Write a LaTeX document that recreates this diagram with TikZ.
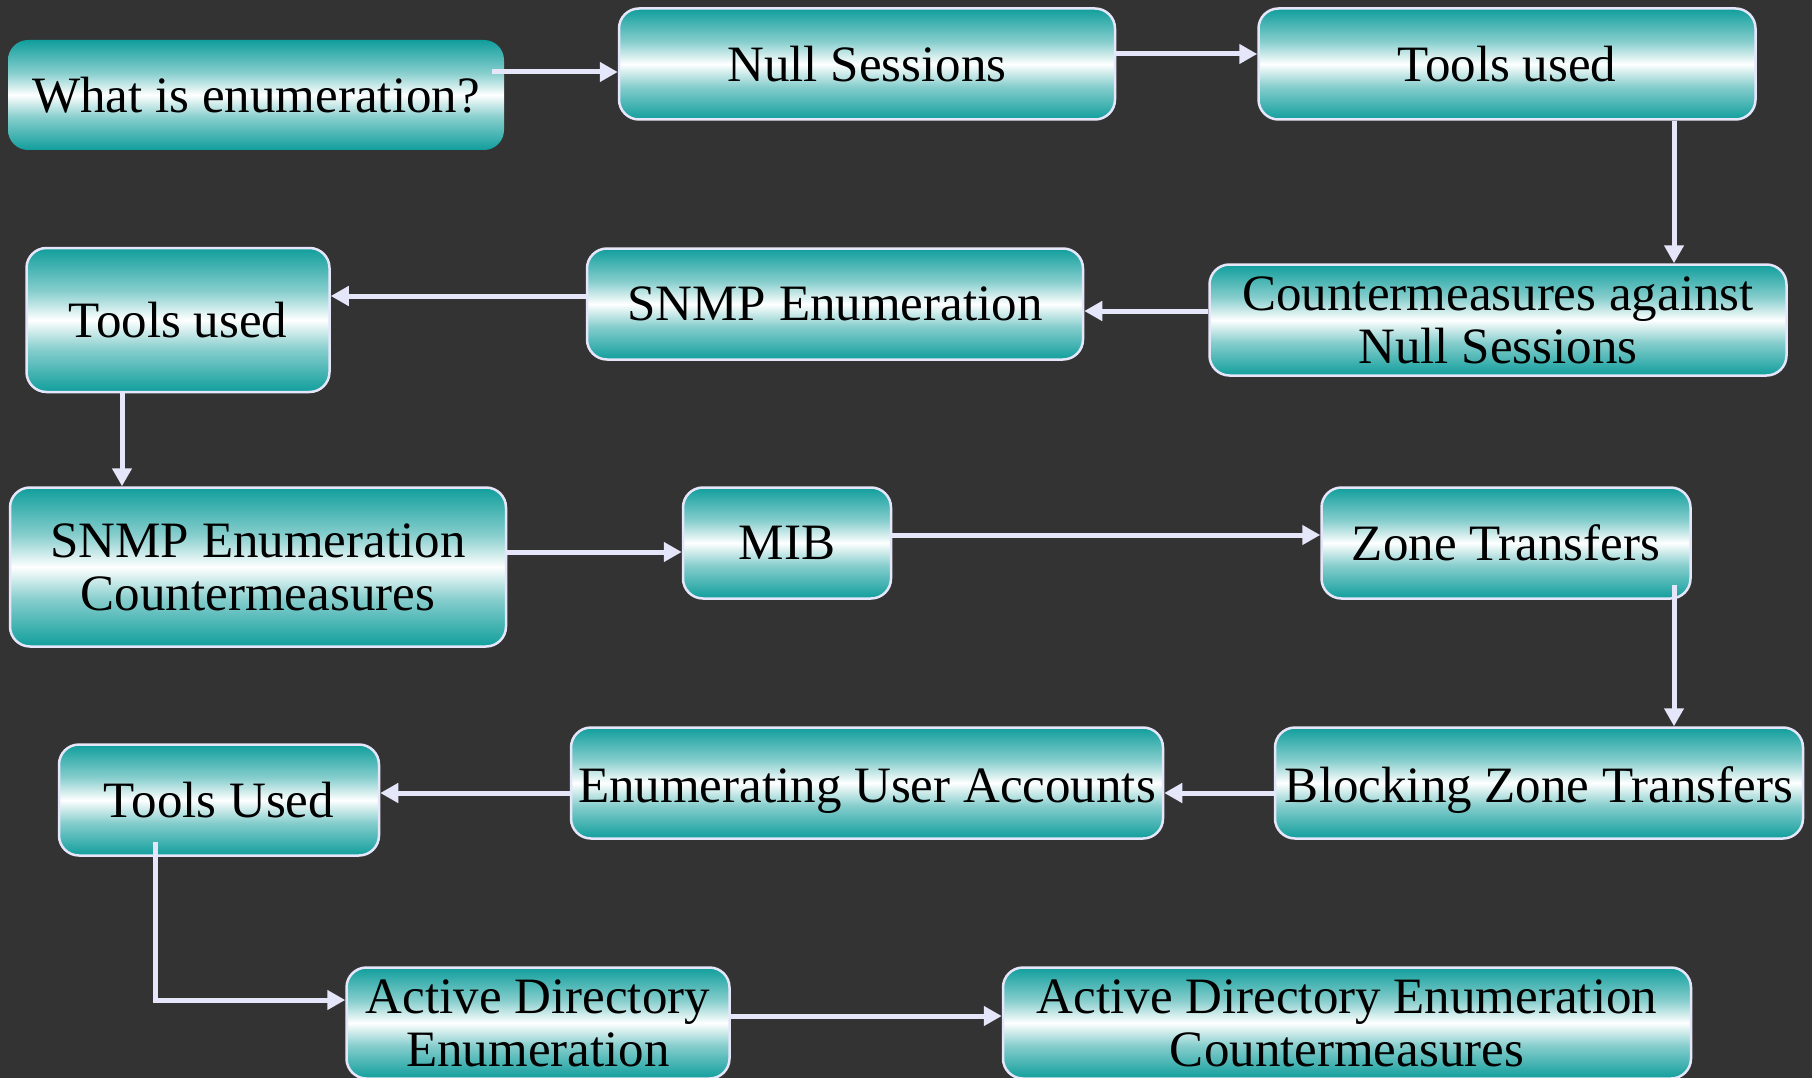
\documentclass[tikz,border=0pt]{standalone}
\usepackage{fontspec}
\setmainfont{Liberation Serif}
\usetikzlibrary{arrows.meta}
\definecolor{bgc}{RGB}{51,51,51}
\definecolor{tealc}{RGB}{16,158,156}
\definecolor{lav}{RGB}{230,230,250}
\pgfdeclareverticalshading{tealband}{100bp}{%
  color(0bp)=(tealc); color(25bp)=(tealc); color(32.5bp)=(tealc!75!white);
  color(40bp)=(tealc!50!white); color(46bp)=(tealc!20!white); color(50bp)=(white);
  color(54bp)=(tealc!20!white); color(60bp)=(tealc!50!white);
  color(67.5bp)=(tealc!75!white); color(75bp)=(tealc); color(100bp)=(tealc)}
\tikzset{
  box/.style={rounded corners=20pt, draw=lav, line width=2.5pt,
    shading=tealband,
    inner sep=0pt, align=center, text=black,
    font=\fontsize{51}{53}\selectfont},
  arr/.style={draw=lav, line width=5pt,
    -{Triangle[width=19pt,length=18pt]}},
  lowtext/.style={text height=49pt, text depth=11pt}
}
\begin{document}
\begin{tikzpicture}[x=1pt,y=-1pt]
\useasboundingbox (0,0) rectangle (1812,1078);
\fill[bgc] (0,0) rectangle (1812,1078);

\node[box, draw=none, minimum width=496pt, minimum height=110pt] (A) at (256,95) {What is enumeration?};
\node[box, minimum width=496pt, minimum height=111pt] (B) at (867,64) {Null Sessions};
\node[box, minimum width=497pt, minimum height=111pt] (C) at (1507,64) {Tools used};
\node[box, minimum width=577pt, minimum height=111pt] (D) at (1498,320) {Countermeasures against\\Null Sessions};
\node[box, minimum width=496pt, minimum height=111pt] (E) at (835,304) {SNMP Enumeration};
\node[box, minimum width=303pt, minimum height=144pt] (F) at (178,320) {Tools used};
\node[box, minimum width=496pt, minimum height=159pt] (G) at (258,567) {SNMP Enumeration\\Countermeasures};
\node[box, minimum width=208pt, minimum height=111pt] (H) at (787,543) {MIB};
\node[box, minimum width=369pt, minimum height=111pt] (I) at (1506,543) {Zone Transfers};
\node[box, lowtext, minimum width=528pt, minimum height=111pt] (J) at (1539,783) {Blocking Zone Transfers};
\node[box, lowtext, minimum width=592pt, minimum height=111pt] (K) at (867,783) {Enumerating User Accounts};
\node[box, minimum width=320pt, minimum height=111pt] (L) at (219,800) {Tools Used};
\node[box, minimum width=383pt, minimum height=111pt] (M) at (538,1023) {Active Directory\\Enumeration};
\node[box, minimum width=688pt, minimum height=111pt] (N) at (1347,1023) {Active Directory Enumeration\\Countermeasures};

\draw[arr] ([xshift=-13pt,yshift=23pt]A.east) -- ([yshift=-8pt]B.west);
\draw[arr] ([yshift=10pt]B.east) -- ([yshift=10pt]C.west);
\draw[arr] ([xshift=167pt]C.south) -- ([xshift=176pt]D.north);
\draw[arr] ([yshift=9pt]D.west) -- ([yshift=-7pt]E.east);
\draw[arr] ([yshift=8pt]E.west) -- ([yshift=24pt]F.east);
\draw[arr] ([xshift=-56pt]F.south) -- ([xshift=-136pt]G.north);
\draw[arr] ([yshift=15pt]G.east) -- ([yshift=-9pt]H.west);
\draw[arr] ([yshift=8pt]H.east) -- ([yshift=8pt]I.west);
\draw[arr] ([xshift=168pt,yshift=15pt]I.south) -- ([xshift=135pt]J.north);
\draw[arr] ([yshift=-10pt]J.west) -- ([yshift=-10pt]K.east);
\draw[arr] ([yshift=-10pt]K.west) -- ([yshift=7pt]L.east);
\draw[arr] ([xshift=-64pt,yshift=15pt]L.south) |- ([yshift=23pt]M.west);
\draw[arr] ([yshift=7pt]M.east) -- ([yshift=7pt]N.west);
\end{tikzpicture}
\end{document}
